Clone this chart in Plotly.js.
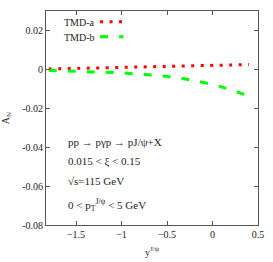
<!DOCTYPE html>
<html><head><meta charset="utf-8">
<script src="https://cdn.plot.ly/plotly-3.0.1.min.js"></script>
<style>body{margin:0;padding:0;background:#fff}#c{width:273px;height:262px}</style>
</head><body><div id="c"></div>
<script>
const xA = [-1.8, -1.5, -1.2, -1.0, -0.75, -0.5, -0.25, 0.0, 0.2, 0.4];
const yA = [0.0004, 0.0007, 0.0010, 0.0012, 0.0016, 0.0019, 0.0022, 0.0024, 0.0026, 0.0027];
const xB = [-1.8, -1.5, -1.2, -1.0, -0.75, -0.5, -0.3, -0.1, 0.1, 0.3, 0.4];
const yB = [-0.0003, -0.0008, -0.0012, -0.0016, -0.0024, -0.0034, -0.0048, -0.0065, -0.0088, -0.0118, -0.0135];
const xTicks = [-1.5, -1, -0.5, 0, 0.5];
const xTickText = ['\u22121.5', '\u22121', '\u22120.5', '0', '0.5'];
const yTicks = [0.02, 0, -0.02, -0.04, -0.06, -0.08];
const yTickText = ['0.02', '0', '-0.02', '-0.04', '-0.06', '-0.08'];
const names = ['TMD-a', 'TMD-b'];
const font = {family: 'Liberation Serif', size: 10, color: '#222'};
const font2 = {family: 'Liberation Serif', size: 11, color: '#222'};
const axisCommon = {showline: true, mirror: 'ticks', linecolor: '#555', linewidth: 1, ticks: 'inside', ticklen: 4, tickcolor: '#555', showgrid: false, zeroline: false, tickfont: font};
const traces = [
  {x: xA, y: yA, mode: 'lines', name: names[0], line: {color: '#ff0000', width: 3, dash: '3px,6.5px'}, showlegend: false},
  {x: xB, y: yB, mode: 'lines', name: names[1], line: {color: '#00ff00', width: 3, dash: '8px,11px'}, showlegend: false}
];
const ann = (x, y, text, xa, f) => ({xref: 'paper', yref: 'paper', x: x, y: y, text: text, showarrow: false, xanchor: xa, yanchor: 'middle', font: f});
const layout = {
  width: 273, height: 262,
  margin: {l: 46, r: 15, t: 11, b: 37},
  paper_bgcolor: '#fff', plot_bgcolor: '#fff',
  font: font,
  xaxis: Object.assign({}, axisCommon, {range: [-1.83, 0.5], tickvals: xTicks, ticktext: xTickText,
    title: {text: 'y<sup>J/ψ</sup>', font: font, standoff: 9}}),
  yaxis: Object.assign({}, axisCommon, {range: [-0.08, 0.0303], tickvals: yTicks, ticktext: yTickText,
    title: {text: 'A<sub>N</sub>', font: font, standoff: 10}}),
  annotations: [
    ann(0.24, 0.948, names[0], 'right', font),
    ann(0.24, 0.878, names[1], 'right', font),
    ann(0.095, 0.39, 'pp → pγp → pJ/ψ+X', 'left', font2),
    ann(0.095, 0.298, '0.015 < ξ < 0.15', 'left', font2),
    ann(0.095, 0.205, '√s=115 GeV', 'left', font2),
    ann(0.095, 0.092, '0 < p<sub>T</sub><sup>J/ψ</sup> < 5 GeV', 'left', font2)
  ],
  shapes: [
    {type: 'line', xref: 'paper', yref: 'paper', x0: 0.255, x1: 0.365, y0: 0.95, y1: 0.95, line: {color: '#ff0000', width: 3, dash: '3px,6.5px'}},
    {type: 'line', xref: 'paper', yref: 'paper', x0: 0.255, x1: 0.365, y0: 0.88, y1: 0.88, line: {color: '#00ff00', width: 3, dash: '8px,11px'}}
  ]
};
Plotly.newPlot('c', traces, layout, {displayModeBar: false, staticPlot: true});
</script></body></html>
